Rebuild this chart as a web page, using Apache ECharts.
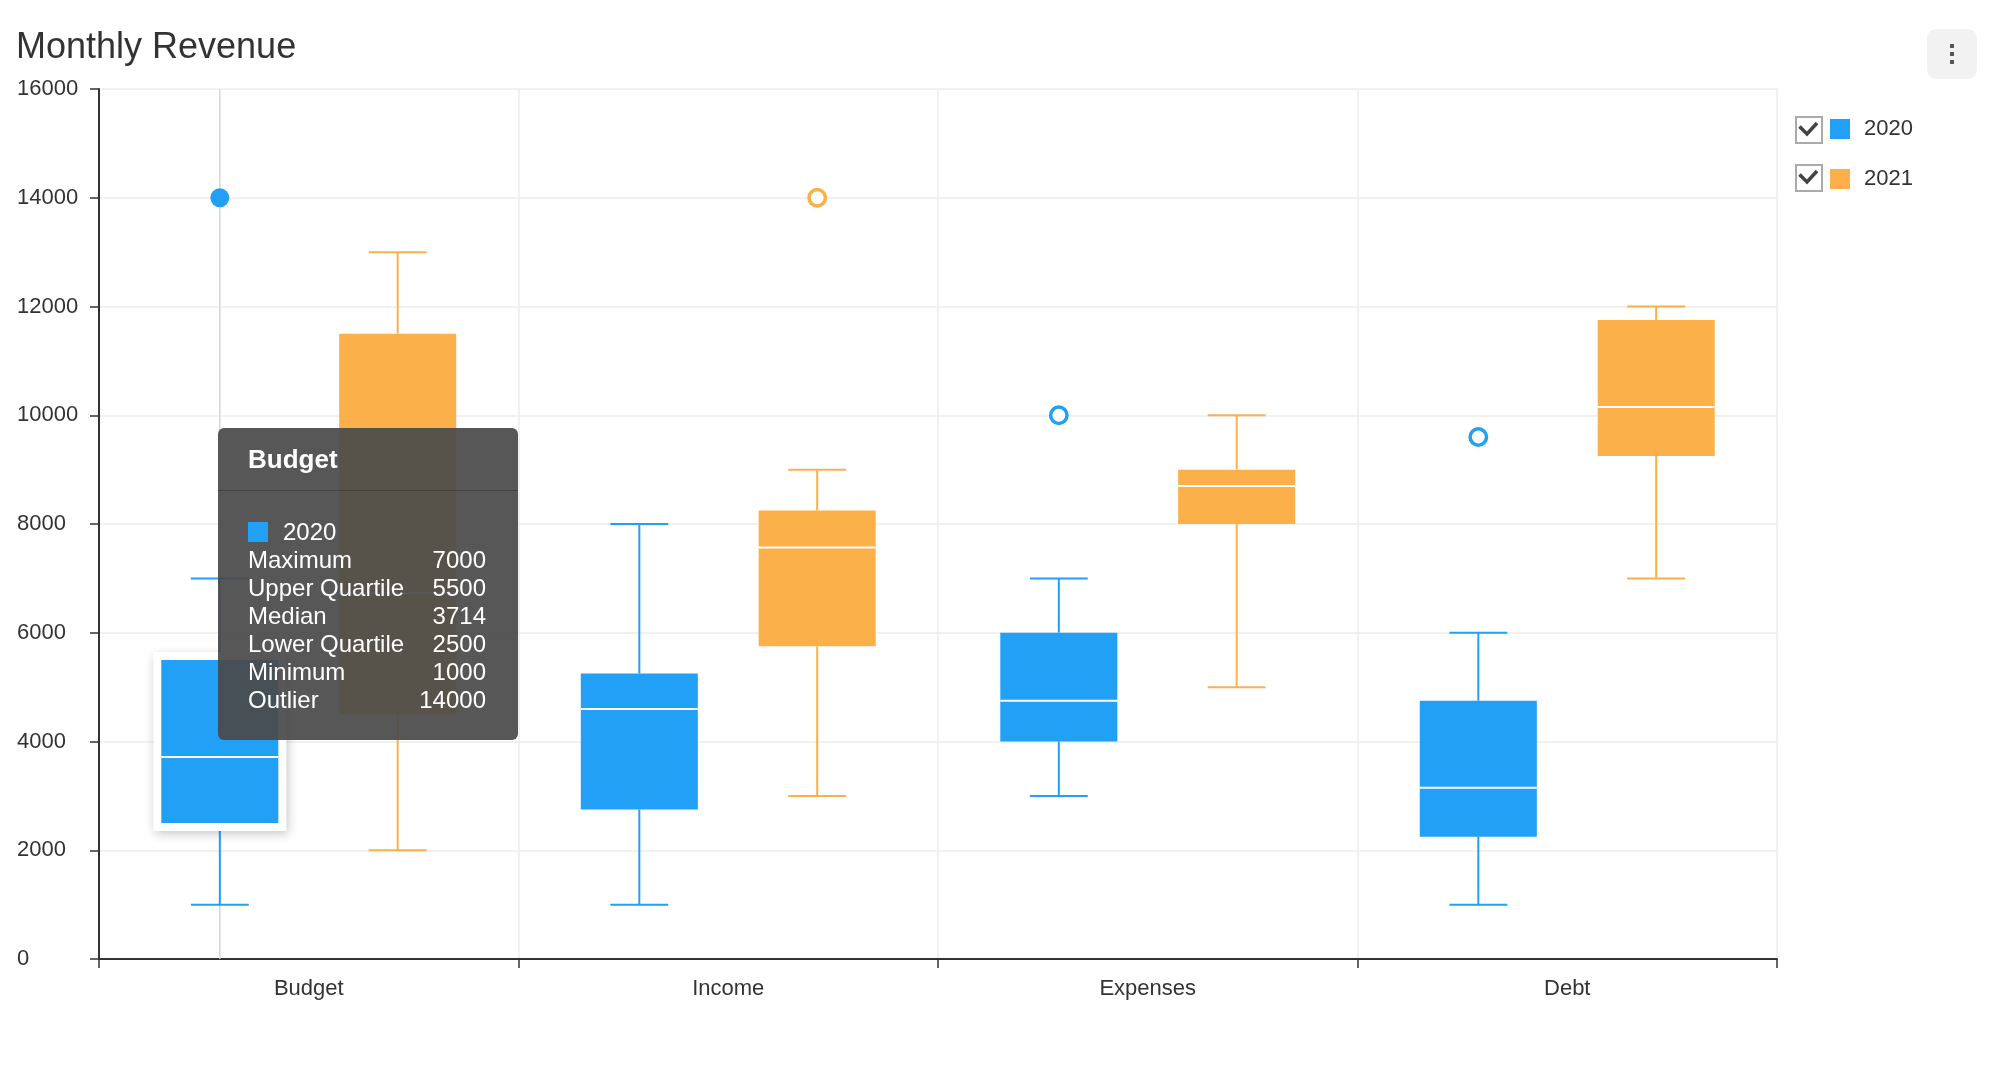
<!doctype html>
<html>
<head>
<meta charset="UTF-8">
<title>Monthly Revenue</title>
<script src="https://cdn.jsdelivr.net/npm/echarts@6.0.0/dist/echarts.min.js"></script>
<style>
  html, body { margin: 0; padding: 0; background: #fff; }
  #main { width: 1994px; height: 1078px; }
</style>
</head>
<body>
<div id="main"></div>
<script type="text/javascript">
// categories on the x axis
var categories = ['Budget', 'Income', 'Expenses', 'Debt'];
var seriesNames = ['2020', '2021'];

// [min, lower quartile, median, upper quartile, max] per category
var box2020 = [
    [1000, 2500, 3714, 5500, 7000],
    [1000, 2750, 4600, 5250, 8000],
    [3000, 4000, 4750, 6000, 7000],
    [1000, 2250, 3150, 4750, 6000]
];
var box2021 = [
    [2000, 4500, 6730, 11500, 13000],
    [3000, 5750, 7570, 8250, 9000],
    [5000, 8000, 8700, 9000, 10000],
    [7000, 9250, 10150, 11750, 12000]
];

// [category index, value]
var outliers2020 = [[0, 14000], [2, 10000], [3, 9600]];
var outliers2021 = [[1, 14000]];

var yTicks = [0, 2000, 4000, 6000, 8000, 10000, 12000, 14000, 16000];

var colors = ['#22a0f6', '#fbb049'];
var FONT = 'Arial, "Liberation Sans", Helvetica, sans-serif';

// the item that is hovered in the reference
var HOVER = { series: '2020', cat: 0 };

// box geometry as a share of the category band
var BOX_OFFSET = 0.212;
var BOX_WIDTH = 0.279;
var CAP_WIDTH = 0.138;

var outliersByName = { '2020': outliers2020, '2021': outliers2021 };

function withIndex(rows) {
    return rows.map(function (r, i) { return [i].concat(r); });
}

function boxRenderer(sign, color) {
    return function (params, api) {
        var cat = api.value(0);
        var band = api.size([1, 0])[0];
        var cx = api.coord([cat, 0])[0] + sign * band * BOX_OFFSET;
        var yMin = api.coord([cat, api.value(1)])[1];
        var yQ1 = api.coord([cat, api.value(2)])[1];
        var yMed = api.coord([cat, api.value(3)])[1];
        var yQ3 = api.coord([cat, api.value(4)])[1];
        var yMax = api.coord([cat, api.value(5)])[1];
        var bw = band * BOX_WIDTH;
        var cw = band * CAP_WIDTH;
        var hovered = params.seriesName === HOVER.series && cat === HOVER.cat;
        var line = { stroke: color, lineWidth: 2 };
        var children = [];
        if (hovered) {
            var cs = params.coordSys;
            children.push({ type: 'line', shape: { x1: cx, y1: cs.y, x2: cx, y2: cs.y + cs.height },
                style: { stroke: '#d6d6d6', lineWidth: 1.5 } });
        }
        children.push(
            { type: 'line', shape: { x1: cx, y1: yQ3, x2: cx, y2: yMax }, style: line },
            { type: 'line', shape: { x1: cx - cw / 2, y1: yMax, x2: cx + cw / 2, y2: yMax }, style: line },
            { type: 'line', shape: { x1: cx, y1: yQ1, x2: cx, y2: yMin }, style: line },
            { type: 'line', shape: { x1: cx - cw / 2, y1: yMin, x2: cx + cw / 2, y2: yMin }, style: line }
        );
        if (hovered) {
            children.push({ type: 'rect', shape: { x: cx - bw / 2 - 8, y: yQ3 - 8, width: bw + 16, height: yQ1 - yQ3 + 16 },
                style: { fill: '#fff', shadowBlur: 10, shadowColor: 'rgba(0,0,0,0.22)', shadowOffsetX: 2, shadowOffsetY: 3 } });
        }
        children.push(
            { type: 'rect', shape: { x: cx - bw / 2, y: yQ3, width: bw, height: yQ1 - yQ3 }, style: { fill: color } },
            { type: 'line', shape: { x1: cx - bw / 2, y1: yMed, x2: cx + bw / 2, y2: yMed }, style: { stroke: '#fff', lineWidth: 2 } }
        );
        return { type: 'group', children: children };
    };
}

function outlierRenderer(sign, color) {
    return function (params, api) {
        var cat = api.value(0);
        var band = api.size([1, 0])[0];
        var p = api.coord([cat, api.value(1)]);
        var hovered = params.seriesName === HOVER.series + ' outliers' && cat === HOVER.cat;
        return {
            type: 'circle',
            shape: { cx: p[0] + sign * band * BOX_OFFSET, cy: p[1], r: hovered ? 9.5 : 8.2 },
            style: hovered ? { fill: color } : { fill: '#fff', stroke: color, lineWidth: 3.5 }
        };
    };
}

function tooltipHtml(p) {
    var v = p.value;
    var outs = outliersByName[p.seriesName].filter(function (o) { return o[0] === v[0]; });
    var rows = [['Maximum', v[5]], ['Upper Quartile', v[4]], ['Median', v[3]], ['Lower Quartile', v[2]], ['Minimum', v[1]]];
    outs.forEach(function (o) { rows.push(['Outlier', o[1]]); });
    var html = '<div style="width:300px;font-family:' + FONT.replace(/"/g, "'") + ';color:#fff">';
    html += '<div style="height:62px;line-height:62px;padding-left:30px;font-size:26px;font-weight:bold;border-bottom:1px solid rgba(0,0,0,0.2)">' + categories[v[0]] + '</div>';
    html += '<div style="padding:27px 32px 26px 30px;font-size:24px;line-height:28px">';
    html += '<div style="display:flex;align-items:center;height:28px"><span style="display:inline-block;width:20px;height:20px;background:' + p.color + ';margin-right:15px"></span>' + p.seriesName + '</div>';
    rows.forEach(function (r) {
        html += '<div style="display:flex;justify-content:space-between;height:28px"><span>' + r[0] + '</span><span>' + r[1] + '</span></div>';
    });
    html += '</div></div>';
    return html;
}

var myChart = echarts.init(document.getElementById('main'));

var checkboxes = [];
seriesNames.forEach(function (name, i) {
    var y = 116 + i * 48;
    checkboxes.push(
        { type: 'rect', left: 1795, top: y, shape: { width: 26, height: 26 }, style: { fill: '#fff', stroke: '#aaa', lineWidth: 2 } },
        { type: 'polyline', shape: { points: [[1799.5, y + 10.5], [1807, y + 18], [1817, y + 7]] }, style: { fill: null, stroke: '#444', lineWidth: 3.5 } }
    );
});

var option = {
    animation: false,
    title: {
        text: 'Monthly Revenue',
        left: 16,
        top: 30,
        padding: 0,
        textStyle: { fontSize: 36, fontWeight: 'normal', color: '#333', fontFamily: FONT }
    },
    legend: {
        data: seriesNames,
        orient: 'vertical',
        left: 1830,
        top: 118,
        itemWidth: 20,
        itemHeight: 20,
        itemGap: 28,
        icon: 'rect',
        padding: 0,
        textStyle: { fontSize: 22, color: '#333', fontFamily: FONT, padding: [0, 0, 0, 9] }
    },
    tooltip: {
        trigger: 'item',
        triggerOn: 'none',
        alwaysShowContent: true,
        transitionDuration: 0,
        position: [218, 428],
        padding: 0,
        borderWidth: 0,
        backgroundColor: 'rgba(74,74,74,0.93)',
        extraCssText: 'box-shadow:none;border-radius:6px;',
        formatter: tooltipHtml
    },
    graphic: checkboxes.concat([
        { type: 'rect', left: 1927, top: 29, shape: { width: 50, height: 50, r: 9 }, style: { fill: '#f2f2f2' } },
        { type: 'rect', left: 1950, top: 44, shape: { width: 4, height: 4 }, style: { fill: '#555' } },
        { type: 'rect', left: 1950, top: 52, shape: { width: 4, height: 4 }, style: { fill: '#555' } },
        { type: 'rect', left: 1950, top: 60, shape: { width: 4, height: 4 }, style: { fill: '#555' } }
    ]),
    grid: {
        left: 99,
        right: 217,
        top: 89,
        bottom: 119
    },
    xAxis: {
        type: 'category',
        data: categories,
        boundaryGap: true,
        axisLine: { show: true, lineStyle: { color: '#333', width: 2 } },
        axisTick: { show: true, length: 9, lineStyle: { color: '#333', width: 1.5 } },
        axisLabel: { fontSize: 22, color: '#333', margin: 19, fontFamily: FONT },
        splitLine: { show: true, lineStyle: { color: '#ececec', width: 1.5 } }
    },
    yAxis: {
        type: 'value',
        min: yTicks[0],
        max: yTicks[yTicks.length - 1],
        interval: yTicks[1] - yTicks[0],
        axisLine: { show: true, lineStyle: { color: '#333', width: 2 } },
        axisTick: { show: true, length: 9, lineStyle: { color: '#333', width: 1.5 } },
        axisLabel: {
            fontSize: 22, color: '#333', align: 'left', margin: 82, fontFamily: FONT,
            formatter: function (v) { return String(v); }
        },
        splitLine: { show: true, lineStyle: { color: '#ececec', width: 1.5 } }
    },
    series: [
        {
            name: '2020',
            type: 'custom',
            renderItem: boxRenderer(-1, colors[0]),
            itemStyle: { color: colors[0] },
            encode: { x: 0, y: [1, 2, 3, 4, 5] },
            data: withIndex(box2020)
        },
        {
            name: '2021',
            type: 'custom',
            renderItem: boxRenderer(1, colors[1]),
            itemStyle: { color: colors[1] },
            encode: { x: 0, y: [1, 2, 3, 4, 5] },
            data: withIndex(box2021)
        },
        {
            name: '2020 outliers',
            type: 'custom',
            renderItem: outlierRenderer(-1, colors[0]),
            itemStyle: { color: colors[0] },
            encode: { x: 0, y: 1 },
            tooltip: { show: false },
            data: outliers2020
        },
        {
            name: '2021 outliers',
            type: 'custom',
            renderItem: outlierRenderer(1, colors[1]),
            itemStyle: { color: colors[1] },
            encode: { x: 0, y: 1 },
            tooltip: { show: false },
            data: outliers2021
        }
    ]
};

myChart.setOption(option);
myChart.dispatchAction({ type: 'showTip', seriesIndex: 0, dataIndex: 0 });
</script>
</body>
</html>
